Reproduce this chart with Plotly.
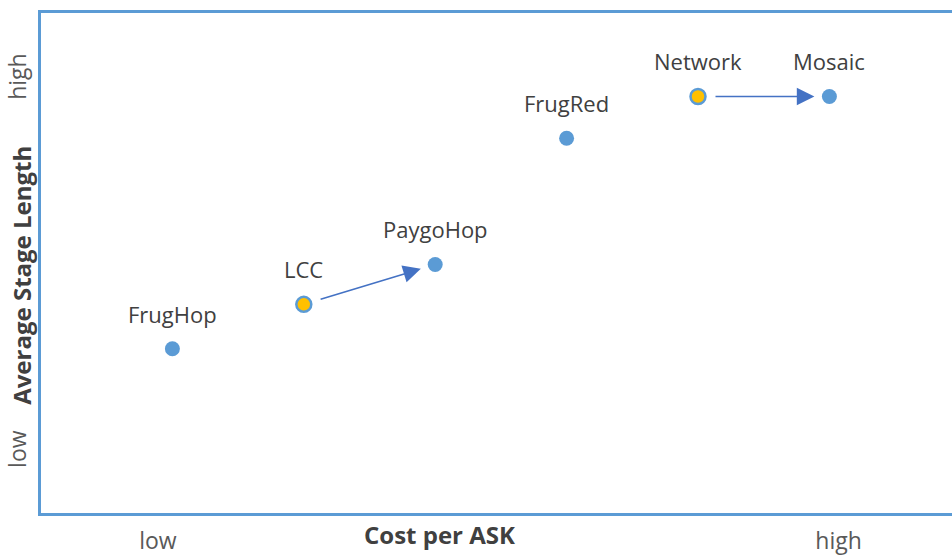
import plotly.graph_objects as go

# Carrier positioning: cost per ASK vs average stage length (relative scale)
carriers = ["FrugHop", "LCC", "PaygoHop", "FrugRed", "Network", "Mosaic"]
cost_per_ask = [1.0, 2.0, 3.0, 4.0, 5.0, 6.0]
stage_length = [2.79, 3.98, 5.05, 8.44, 9.56, 9.56]
highlighted = [False, True, False, False, True, False]

# Moves from one model to another
moves = [("LCC", "PaygoHop"), ("Network", "Mosaic")]

x_tick_vals = [0.89, 6.07]
x_tick_text = ["low", "high"]
y_tick_vals = [0.0, 10.0]
y_tick_text = ["low", "high"]

BLUE = "#5B9BD5"
GOLD = "#FFC000"
ARROW = "#4472C4"
TEXT = "#404040"
FONT = "Open Sans, Noto Sans, sans-serif"

W, H = 952, 556
M_L, M_R, M_T, M_B = 41, 0, 13, 37

fig = go.Figure()

fig.add_trace(go.Scatter(
    x=cost_per_ask,
    y=stage_length,
    mode="markers",
    marker=dict(
        size=15,
        color=[GOLD if h else BLUE for h in highlighted],
        line=dict(color=BLUE, width=[2.5 if h else 0 for h in highlighted]),
    ),
    hoverinfo="text",
    text=carriers,
    showlegend=False,
))

annotations = []
for name, x, y in zip(carriers, cost_per_ask, stage_length):
    annotations.append(dict(
        x=x, y=y, xref="x", yref="y", text=name, showarrow=False,
        yshift=35, yanchor="middle",
        font=dict(family=FONT, size=22, color=TEXT),
    ))

idx = {n: i for i, n in enumerate(carriers)}
for a, b in moves:
    annotations.append(dict(
        x=cost_per_ask[idx[b]], y=stage_length[idx[b]],
        ax=cost_per_ask[idx[a]], ay=stage_length[idx[a]],
        xref="x", yref="y", axref="x", ayref="y",
        text="", showarrow=True,
        arrowhead=2, arrowsize=2.2, arrowwidth=1.6, arrowcolor=ARROW,
        standoff=15, startstandoff=16,
    ))

plot_w = W - M_L - M_R
plot_h = H - M_T - M_B

# Axis titles
annotations.append(dict(
    x=(439 - M_L) / plot_w, y=-(541 - (H - M_B)) / plot_h,
    xref="paper", yref="paper", text="<b>Cost per ASK</b>",
    showarrow=False, xanchor="center", yanchor="middle",
    font=dict(family=FONT, size=24, color=TEXT),
))
annotations.append(dict(
    x=-(M_L - 22) / plot_w, y=((H - M_B) - 279) / plot_h,
    xref="paper", yref="paper",
    text="<b>Average Stage Length</b>", textangle=-90,
    showarrow=False, xanchor="center", yanchor="middle",
    font=dict(family=FONT, size=24, color=TEXT),
))

fig.update_layout(
    width=W, height=H,
    margin=dict(l=M_L, r=M_R, t=M_T, b=M_B),
    paper_bgcolor="white", plot_bgcolor="white",
    annotations=annotations,
    xaxis=dict(
        range=[0, plot_w / 131.4],
        tickvals=x_tick_vals, ticktext=x_tick_text,
        showgrid=False, zeroline=False,
        showline=True, linecolor=BLUE, linewidth=3, mirror=True,
        ticks="", ticklabelstandoff=5,
        tickfont=dict(family=FONT, size=23, color="#595959"),
    ),
    yaxis=dict(
        range=[-1.62, 11.8],
        tickvals=y_tick_vals, ticktext=y_tick_text, tickangle=-90,
        showgrid=False, zeroline=False,
        showline=True, linecolor=BLUE, linewidth=3, mirror=False,
        ticks="", ticklabelstandoff=3,
        tickfont=dict(family=FONT, size=23, color="#595959"),
    ),
)

fig.write_html("out.html")
